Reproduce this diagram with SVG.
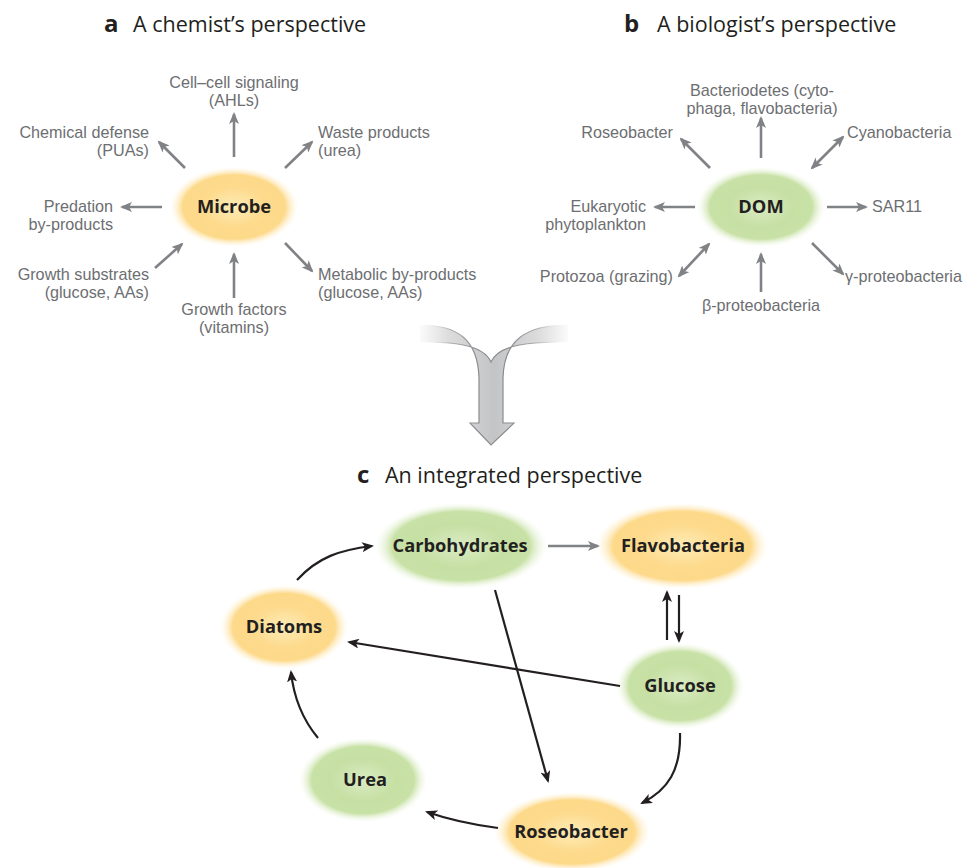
<svg xmlns="http://www.w3.org/2000/svg" width="977" height="868" viewBox="0 0 977 868">
<defs>
<style>
.title{font-family:"Open Sans","Noto Sans",sans-serif;font-size:21.5px;fill:#231f20}
.tl{font-family:"Open Sans","Noto Sans",sans-serif;font-size:24px;font-weight:700;fill:#231f20}
.lab{font-family:"Liberation Sans",Arial,sans-serif;font-size:16.2px;fill:#6d6e71}
.node{font-family:"Open Sans","Noto Sans",sans-serif;font-size:18.3px;font-weight:700;fill:#231f20;text-anchor:middle}
.ga{stroke:#808285;stroke-width:2.6;fill:none}
.ba{stroke:#231f20;stroke-width:2.2;fill:none}
.mid{text-anchor:middle}
.end{text-anchor:end}
</style>
<radialGradient id="gOr" cx="50%" cy="50%" r="50%">
<stop offset="0" stop-color="#feecb8"/>
<stop offset="0.5" stop-color="#fdda8c"/>
<stop offset="0.8" stop-color="#fdd98a"/>
<stop offset="1" stop-color="#fff4d8" stop-opacity="0"/>
</radialGradient>
<radialGradient id="gGr" cx="50%" cy="50%" r="50%">
<stop offset="0" stop-color="#dbebc4"/>
<stop offset="0.5" stop-color="#c6e0a4"/>
<stop offset="0.8" stop-color="#c8e1a6"/>
<stop offset="1" stop-color="#eef6e2" stop-opacity="0"/>
</radialGradient>
<linearGradient id="gArr" gradientUnits="userSpaceOnUse" x1="420" y1="0" x2="568" y2="0">
<stop offset="0" stop-color="#fbfbfb"/>
<stop offset="0.2" stop-color="#dcdcdd"/>
<stop offset="0.5" stop-color="#c3c4c6"/>
<stop offset="0.8" stop-color="#dcdcdd"/>
<stop offset="1" stop-color="#fbfbfb"/>
</linearGradient>
<linearGradient id="gArrS" gradientUnits="userSpaceOnUse" x1="420" y1="0" x2="568" y2="0">
<stop offset="0" stop-color="#ffffff" stop-opacity="0"/>
<stop offset="0.2" stop-color="#b0b1b3"/>
<stop offset="0.4" stop-color="#8a8b8d"/>
<stop offset="0.6" stop-color="#8a8b8d"/>
<stop offset="0.8" stop-color="#b0b1b3"/>
<stop offset="1" stop-color="#ffffff" stop-opacity="0"/>
</linearGradient>
<marker id="mg" markerUnits="userSpaceOnUse" viewBox="0 0 12 10" refX="10" refY="5" markerWidth="12" markerHeight="10" orient="auto-start-reverse">
<path d="M0,0 L12,5 L0,10 L3,5 Z" fill="#808285"/>
</marker>
<marker id="mb" markerUnits="userSpaceOnUse" viewBox="0 0 12 10" refX="10" refY="5" markerWidth="12" markerHeight="10" orient="auto-start-reverse">
<path d="M0,0 L12,5 L0,10 L3,5 Z" fill="#231f20"/>
</marker>
</defs>

<!-- Titles -->
<g id="title-a"><text class="tl" x="104" y="32">a</text><text class="title" x="133" y="32">A chemist’s perspective</text></g>
<g id="title-b"><text class="tl" x="624" y="32">b</text><text class="title" x="657" y="32">A biologist’s perspective</text></g>
<g id="title-c"><text class="tl" x="357" y="483">c</text><text class="title" x="385" y="483">An integrated perspective</text></g>

<!-- Panel a -->
<g id="microbe"><ellipse cx="234" cy="207" rx="64" ry="40" fill="url(#gOr)"/><text class="node" x="234" y="213">Microbe</text></g>
<g id="a-labels" class="lab">
<text class="mid" x="234" y="87.5">Cell–cell signaling<tspan x="234" dy="18.6">(AHLs)</tspan></text>
<text class="end" x="149" y="137.5">Chemical defense<tspan x="149" dy="18.6">(PUAs)</tspan></text>
<text x="318" y="137.5">Waste products<tspan x="318" dy="18.6">(urea)</tspan></text>
<text class="end" x="113" y="211.5">Predation<tspan x="113" dy="18.6">by-products</tspan></text>
<text class="end" x="149" y="279.5">Growth substrates<tspan x="149" dy="18.6">(glucose, AAs)</tspan></text>
<text class="mid" x="234" y="314.5">Growth factors<tspan x="234" dy="18.6">(vitamins)</tspan></text>
<text x="318" y="279.5">Metabolic by-products<tspan x="318" dy="18.6">(glucose, AAs)</tspan></text>
</g>
<g id="a-connectors">
<line class="ga" x1="234" y1="157" x2="234" y2="114" marker-end="url(#mg)"/>
<line class="ga" x1="185" y1="168" x2="159" y2="142" marker-end="url(#mg)"/>
<line class="ga" x1="285" y1="168" x2="312" y2="142" marker-end="url(#mg)"/>
<line class="ga" x1="162" y1="207" x2="122" y2="207" marker-end="url(#mg)"/>
<line class="ga" x1="155" y1="268" x2="182" y2="244" marker-end="url(#mg)"/>
<line class="ga" x1="234" y1="298" x2="234" y2="254" marker-end="url(#mg)"/>
<line class="ga" x1="285" y1="243" x2="312" y2="271" marker-end="url(#mg)"/>
</g>

<!-- Panel b -->
<g id="dom"><ellipse cx="761" cy="207" rx="64" ry="40" fill="url(#gGr)"/><text class="node" x="761" y="213">DOM</text></g>
<g id="b-labels" class="lab">
<text class="mid" x="762" y="95.5">Bacteriodetes (cyto-<tspan x="762" dy="18.6">phaga, flavobacteria)</tspan></text>
<text class="end" x="673" y="138">Roseobacter</text>
<text x="847" y="138">Cyanobacteria</text>
<text class="end" x="646" y="211.5">Eukaryotic<tspan x="646" dy="18.6">phytoplankton</tspan></text>
<text x="872" y="212">SAR11</text>
<text class="end" x="673" y="282">Protozoa (grazing)</text>
<text x="845" y="282">γ-proteobacteria</text>
<text class="mid" x="761" y="311">β-proteobacteria</text>
</g>
<g id="b-connectors">
<line class="ga" x1="761" y1="158" x2="761" y2="118" marker-end="url(#mg)"/>
<line class="ga" x1="710" y1="168" x2="681" y2="139" marker-end="url(#mg)"/>
<line class="ga" x1="812" y1="168" x2="843" y2="137" marker-start="url(#mg)" marker-end="url(#mg)"/>
<line class="ga" x1="695" y1="207" x2="655" y2="207" marker-end="url(#mg)"/>
<line class="ga" x1="827" y1="207" x2="866" y2="207" marker-end="url(#mg)"/>
<line class="ga" x1="709" y1="244" x2="679" y2="276" marker-start="url(#mg)" marker-end="url(#mg)"/>
<line class="ga" x1="761" y1="292" x2="761" y2="254" marker-end="url(#mg)"/>
<line class="ga" x1="812" y1="243" x2="843" y2="274" marker-end="url(#mg)"/>
</g>

<!-- Merge arrow -->
<g id="merge-arrow">
<path d="M420,325 C458,325 478,340 479,378 L479,423 L470,423 L491,445 L514,423 L503,423 L503,378 C504,340 526,325 568,325 L568,342 C530,342 499,344 491,362 C483,344 452,342 420,342 Z" fill="url(#gArr)" stroke="url(#gArrS)" stroke-width="1.2"/>
</g>

<!-- Panel c nodes -->
<g id="carbohydrates"><ellipse cx="461" cy="546" rx="86" ry="43" fill="url(#gGr)"/><text class="node" x="460" y="552">Carbohydrates</text></g>
<g id="flavobacteria"><ellipse cx="682" cy="546" rx="86" ry="43" fill="url(#gOr)"/><text class="node" x="683" y="552">Flavobacteria</text></g>
<g id="diatoms"><ellipse cx="284" cy="627" rx="64" ry="42" fill="url(#gOr)"/><text class="node" x="284" y="633">Diatoms</text></g>
<g id="glucose"><ellipse cx="680" cy="686" rx="64" ry="43" fill="url(#gGr)"/><text class="node" x="680" y="692">Glucose</text></g>
<g id="urea"><ellipse cx="363" cy="780" rx="64" ry="42" fill="url(#gGr)"/><text class="node" x="365" y="786">Urea</text></g>
<g id="roseobacter"><ellipse cx="572" cy="832" rx="78" ry="40" fill="url(#gOr)"/><text class="node" x="571" y="838">Roseobacter</text></g>

<!-- Panel c connectors -->
<g id="c-connectors">
<line x1="548" y1="546" x2="598" y2="546" class="ga" stroke-width="2" marker-end="url(#mg)"/>
<path class="ba" d="M297,580 C318,557 340,550 372,546" marker-end="url(#mb)"/>
<line class="ba" x1="667" y1="640" x2="667" y2="592" marker-end="url(#mb)"/>
<line class="ba" x1="679" y1="595" x2="679" y2="641" marker-end="url(#mb)"/>
<line class="ba" x1="620" y1="686" x2="349" y2="642" marker-end="url(#mb)"/>
<line class="ba" x1="495" y1="590" x2="548" y2="781" marker-end="url(#mb)"/>
<path class="ba" d="M680,733 C681,770 668,790 642,803" marker-end="url(#mb)"/>
<path class="ba" d="M498,828 C475,825 450,820 427,812" marker-end="url(#mb)"/>
<path class="ba" d="M318,738 C303,720 294,700 291,672" marker-end="url(#mb)"/>
</g>
</svg>
